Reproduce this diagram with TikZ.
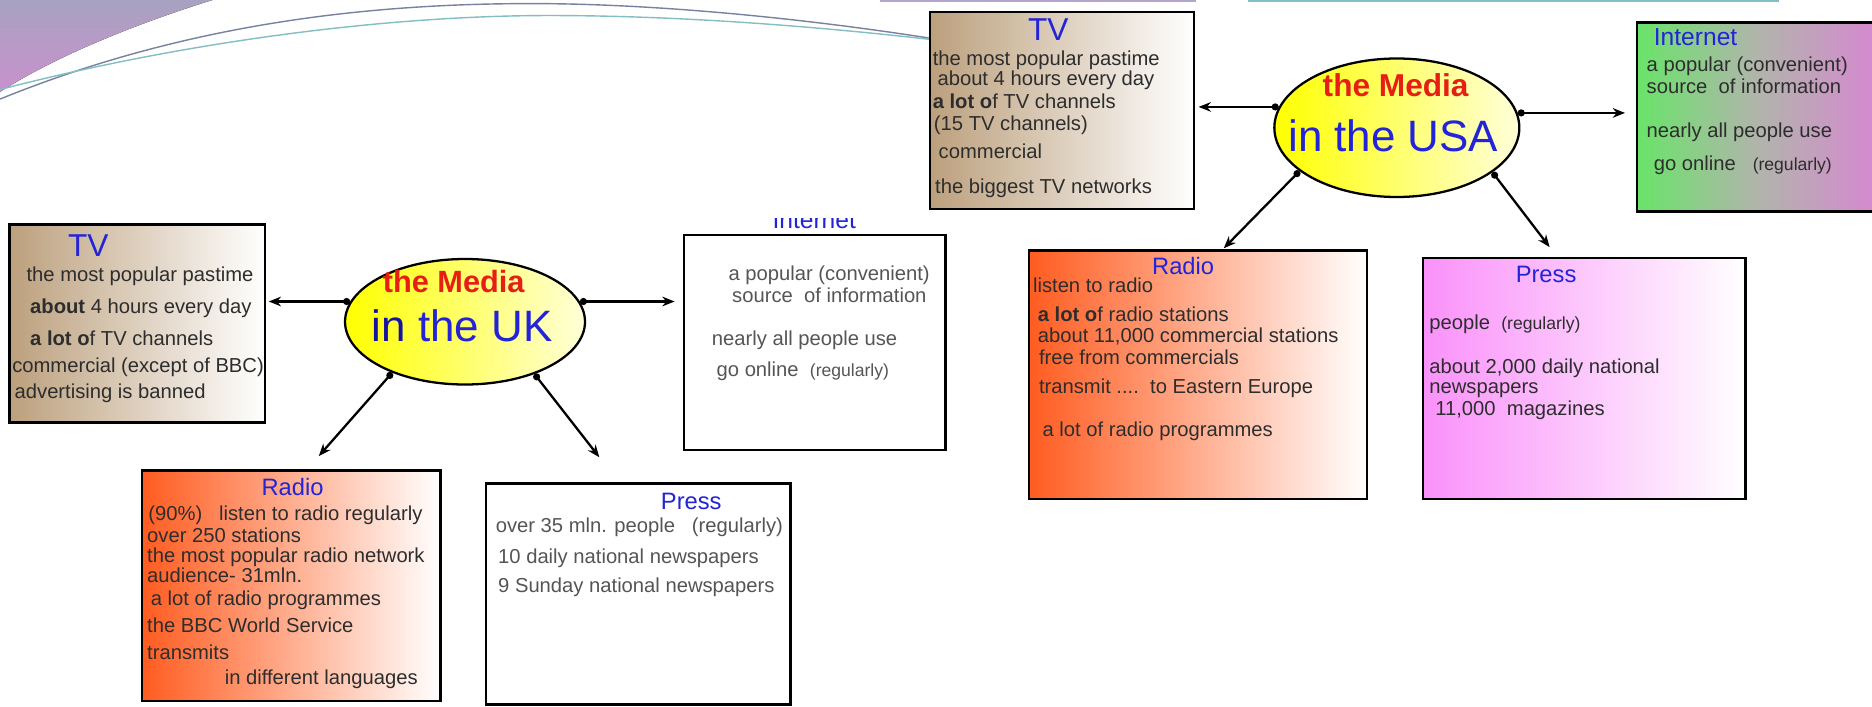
\documentclass[tikz,border=0pt]{standalone}
\usepackage{fontspec}
\setmainfont{Liberation Sans}
\usetikzlibrary{arrows.meta,fit,shapes.geometric}
\definecolor{mytan}{RGB}{188,160,125}
\definecolor{myorange}{RGB}{255,92,32}
\definecolor{mypink}{RGB}{250,145,250}
\definecolor{mygreen}{RGB}{105,228,105}
\definecolor{mygray}{RGB}{178,180,172}
\definecolor{mymauve}{RGB}{215,135,210}
\definecolor{myblue}{RGB}{35,35,215}
\definecolor{mynavy}{RGB}{20,20,160}
\definecolor{myred}{RGB}{230,30,20}
\definecolor{mytext}{RGB}{45,45,45}
\definecolor{mytextlt}{RGB}{85,85,85}
\definecolor{mydecotop}{RGB}{168,162,192}
\definecolor{mydecobot}{RGB}{200,145,205}
\definecolor{mygrayblue}{RGB}{120,130,160}
\definecolor{myteal}{RGB}{130,190,195}
\definecolor{mylilac}{RGB}{180,165,205}
\pgfdeclarehorizontalshading{inetshade}{100bp}{color(0bp)=(mygreen); color(25bp)=(mygreen); color(50bp)=(mygray); color(75bp)=(mymauve); color(100bp)=(mymauve)}
\begin{document}
\begin{tikzpicture}[x=0.02388cm,y=-0.02388cm,
  bx/.style={draw,line width=1.4pt,inner sep=0pt},
  tvfill/.style={left color=mytan,right color=white},
  rdfill/.style={left color=myorange,right color=white},
  prfill/.style={left color=mypink,right color=white},
  med/.style={draw,ellipse,line width=1.3pt,inner sep=0pt,left color=yellow,right color=yellow!15},
  ttl/.style={anchor=base,inner sep=0pt,text=myblue,font=\fontsize{13.5}{16}\selectfont},
  bigttl/.style={ttl,font=\fontsize{18}{20}\selectfont},
  txt/.style={anchor=base west,inner sep=0pt,text=mytext,font=\fontsize{11.5}{14}\selectfont},
  medred/.style={anchor=base,inner sep=0pt,text=myred,font=\bfseries\fontsize{17.5}{20}\selectfont},
  medblue/.style={anchor=base,inner sep=0pt,text=myblue,font=\fontsize{25}{28}\selectfont},
  conn/.style={line width=1.3pt,{Circle[length=4pt]}-{Stealth[length=7pt,width=5.5pt]}}]

  \fill[white] (0,0) rectangle (1568,592);
  \useasboundingbox (0,0) rectangle (1568,592);

  % slide decoration
  \fill[top color=mydecotop,bottom color=mydecobot] (0,0) -- (178,0) .. controls (120,18) and (50,45) .. (0,77) -- cycle;
  \draw[mygrayblue,line width=0.8pt] (0,83) .. controls (150,22) and (300,3) .. (445,3) .. controls (560,3) and (690,18) .. (779,32);
  \draw[myteal,line width=0.8pt] (0,75) .. controls (150,36) and (320,13) .. (460,13) .. controls (580,13) and (700,24) .. (779,33);
  \draw[mylilac,line width=1.2pt] (737,0.7) -- (1002,0.7);
  \draw[myteal,line width=1.2pt] (1045,0.7) -- (1490,0.7);

  % the UK
  \node[med,minimum width=4.80cm,minimum height=2.51cm] (ukmedia) at (389.5,269.5) {};
  \node[medred] (ukmediat) at (380,245) {the Media};
  \node[medblue] (ukmediac) at (387,286) {{\color{mynavy}in} the UK};

  \node[bx,tvfill,fit={(8,188) (222,354)}] (uktv) {};
  \node[bx,fill=white,fit={(573,197) (792,377)}] (ukinet) {};
  \node[bx,rdfill,fit={(119,394) (369,587)}] (ukradio) {};
  \node[bx,fill=white,fit={(407,405) (662,590)}] (ukpress) {};

  \node[bigttl] (uktvt) at (74,215) {TV};
  \begin{scope}
    \clip (630,183) rectangle (730,197);
    \node[ttl,font=\fontsize{14}{16}\selectfont] (ukinett) at (682,191) {Internet};
  \end{scope}
  \node[ttl] (ukradiot) at (245,415) {Radio};
  \node[ttl] (ukpresst) at (579,427) {Press};

  \foreach \x/\y/\lbl [count=\i] in {22/236/{the most popular pastime},
    25/263/{\textbf{about} 4 hours every day},
    25/289/{\textbf{a lot o}f TV channels},
    10/312/{commercial (except of BBC)},
    12/334/{advertising is banned}}
    \node[txt] (uktv\i) at (\x,\y) {\lbl};

  \foreach \x/\y/\lbl [count=\i] in {610/235/{a popular (convenient)},
    613/253/{source~~of information},
    596/289/{nearly all people use},
    600/315/{go online~~{\fontsize{10}{12}\selectfont(regularly)}}}
    \node[txt,text=mytextlt] (ukinet\i) at (\x,\y) {\lbl};

  \foreach \x/\y/\lbl [count=\i] in {124/436/{(90\%)~~ listen to radio regularly},
    123/454/{over 250 stations},
    123/471/{the most popular radio network},
    123/488/{audience- 31mln.},
    126/507/{a lot of radio programmes},
    123/530/{the BBC World Service},
    123/552/{transmits},
    188/573/{in different languages}}
    \node[txt] (ukradio\i) at (\x,\y) {\lbl};

  \foreach \x/\y/\lbl [count=\i] in {415/446/{over 35 mln. people~~~(regularly)},
    417/472/{10 daily national newspapers},
    417/496/{9 Sunday national newspapers}}
    \node[txt,text=mytextlt] (ukpress\i) at (\x,\y) {\lbl};

  % arrows of the UK
  \coordinate (ukradioend) at (267,382);
  \coordinate (ukpressend) at (502,383);
  \draw[conn,shorten >=1.4pt] (ukmedia.170) -- (ukmedia.170 -| uktv.east);
  \draw[conn,shorten >=4.7pt] (ukmedia.10) -- (ukmedia.10 -| ukinet.west);
  \draw[conn] (ukmedia.215) -- (ukradioend);
  \draw[conn] (ukmedia.-37) -- (ukpressend);

  % the USA
  \node[med,minimum width=4.90cm,minimum height=2.77cm] (usmedia) at (1170,107) {};
  \node[medred,font=\bfseries\fontsize{18}{20}\selectfont] (usmediat) at (1169,81) {the Media};
  \node[medblue] (usmediac) at (1167,127) {in the USA};

  \node[bx,tvfill,fit={(779,10) (1000,175)}] (ustv) {};
  \node[bx,shade,shading=inetshade,fit={(1371,19) (1575,177)}] (usinet) {};
  \node[bx,rdfill,fit={(862,210) (1145,418)}] (usradio) {};
  \node[bx,prfill,fit={(1192,216) (1462,418)}] (uspress) {};

  \node[bigttl] (ustvt) at (878,34) {TV};
  \node[ttl,anchor=base west,font=\fontsize{14}{16}\selectfont] (usinett) at (1385,38) {Internet};
  \node[ttl] (usradiot) at (991,230) {Radio};
  \node[ttl] (uspresst) at (1295,237) {Press};

  \foreach \x/\y/\lbl [count=\i] in {781/55/{the most popular pastime},
    785/72/{about 4 hours every day},
    781/91/{\textbf{a lot o}f TV channels},
    782/109/{(15 TV channels)},
    786/133/{commercial},
    783/162/{the biggest TV networks}}
    \node[txt] (ustv\i) at (\x,\y) {\lbl};

  \foreach \x/\y/\lbl [count=\i] in {1379/60/{a popular (convenient)},
    1379/78/{source~~of information},
    1379/115/{nearly all people use},
    1385/143/{go online~~~{\fontsize{10}{12}\selectfont(regularly)}}}
    \node[txt] (usinet\i) at (\x,\y) {\lbl};

  \foreach \x/\y/\lbl [count=\i] in {865/245/{listen to radio},
    869/269/{\textbf{a lot o}f radio stations},
    869/287/{about 11,000 commercial stations},
    870/305/{free from commercials},
    870/330/{transmit~....~~to Eastern Europe},
    873/366/{a lot of radio programmes}}
    \node[txt] (usradio\i) at (\x,\y) {\lbl};

  \foreach \x/\y/\lbl [count=\i] in {1197/276/{people~~{\fontsize{10}{12}\selectfont(regularly)}},
    1197/313/{about 2,000 daily national},
    1197/330/{newspapers},
    1202/348/{11,000~~magazines}}
    \node[txt] (uspress\i) at (\x,\y) {\lbl};

  % arrows of the USA
  \coordinate (usradioend) at (1025,208);
  \coordinate (uspressend) at (1298,207);
  \draw[conn,shorten >=2pt] (usmedia.170) -- (usmedia.170 -| ustv.east);
  \draw[conn,shorten >=6pt] (usmedia.7) -- (usmedia.7 -| usinet.west);
  \draw[conn] (usmedia.204) -- (usradioend);
  \draw[conn] (usmedia.-25) -- (uspressend);

\end{tikzpicture}
\end{document}
